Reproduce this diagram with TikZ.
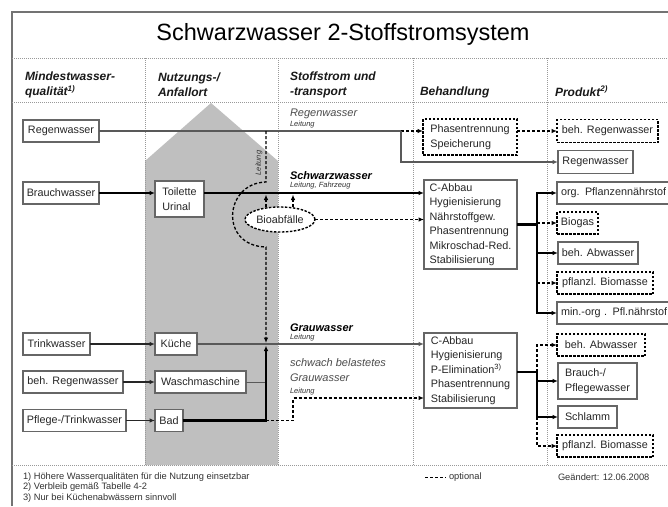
\documentclass[tikz,border=0pt]{standalone}
\usepackage{fontspec}
\setmainfont{Liberation Sans}
\usetikzlibrary{arrows.meta,shapes.geometric}
\begin{document}
\begin{tikzpicture}[x=1pt,y=-1pt,
  every node/.style={inner sep=0pt, outer sep=0pt},
  box/.style={draw=black!60, line width=1.2pt, fill=white, inner sep=2pt, text=black!85, font=\fontsize{10.8}{14.5}\selectfont, align=left},
  dbox/.style={box, draw=black, line width=1.4pt, dash pattern=on 2.5pt off 1.5pt},
  gl/.style={draw=black!65, line width=1.2pt},
  ml/.style={draw=black!85, line width=1.6pt},
  kl/.style={draw=black, line width=2.4pt},
  dl/.style={draw=black, line width=1.3pt, dash pattern=on 3pt off 2pt},
  arr/.style={-{Latex[length=5.5pt,width=4.5pt]}},
  colsep/.style={draw=black!40, line width=0.9pt, dash pattern=on 1pt off 1pt},
  hd/.style={font=\fontsize{12}{15}\selectfont\bfseries\itshape, align=left, anchor=west, text=black!90},
  lbl/.style={font=\fontsize{11}{15}\selectfont\itshape, anchor=west, text=black!70, align=left},
  blbl/.style={font=\fontsize{11}{15}\selectfont\bfseries\itshape, anchor=west},
  sml/.style={font=\fontsize{7.5}{9}\selectfont\itshape, anchor=west, text=black!80},
  ft/.style={font=\fontsize{9.3}{10}\selectfont, anchor=west, text=black!80},
]
\useasboundingbox (0,0) rectangle (668,506);
\clip (0,0) rectangle (668,506);
\fill[white] (0,0) rectangle (668,506);

% house
\fill[black!25] (145,161) -- (211,103) -- (278,161) -- (278,465) -- (145,465) -- cycle;

% frame and grid
\draw[draw=black!55, line width=1.2pt] (12,506) -- (12,12) -- (668,12);
\draw[colsep] (12,58) -- (668,58);
\draw[colsep] (12,102) -- (668,102);
\draw[colsep] (12,465) -- (668,465);
\foreach \x in {145,278,413,547} \draw[colsep] (\x,58) -- (\x,465);

% title and headers
\node[font=\fontsize{23.5}{28}\selectfont] (title) at (343,34) {Schwarzwasser 2-Stoffstromsystem};
\node[hd] (h1) at (25,85) {Mindestwasser-\\qualität\textsuperscript{1)}};
\node[hd] (h2) at (158,85) {Nutzungs-/\\Anfallort};
\node[hd] (h3) at (290,85) {Stoffstrom und\\-transport};
\node[hd] (h4) at (420,92) {Behandlung};
\node[hd] (h5) at (555,91) {Produkt\textsuperscript{2)}};

% left column
\node[box, minimum width=76pt, minimum height=22pt] (rwL) at (61,131) {Regenwasser};
\node[box, minimum width=76pt, minimum height=22pt] (bwL) at (61,193) {Brauchwasser};
\node[box, minimum width=67pt, minimum height=22pt] (twL) at (56.5,344) {Trinkwasser};
\node[box, minimum width=100pt, minimum height=22pt] (brL) at (73,382) {beh. Regenwasser};
\node[box, minimum width=103pt, minimum height=22pt] (ptL) at (74.5,420.5) {Pflege-/Trinkwasser};

% middle column
\node[box, minimum width=49pt, minimum height=36pt] (toil) at (179.5,199) {Toilette\\Urinal};
\node[box, minimum width=42pt, minimum height=22pt] (kue) at (176,344) {Küche};
\node[box, minimum width=91pt, minimum height=22pt] (wm) at (200.5,382) {Waschmaschine};
\node[box, minimum width=28pt, minimum height=22pt] (bad) at (169,420.5) {Bad};

% treatment
\node[dbox, minimum width=94pt, minimum height=36pt] (ps) at (470,137) {Phasentrennung\\Speicherung};
\node[box, minimum width=93pt, minimum height=89pt] (cab1) at (470.5,224.5) {C-Abbau\\Hygienisierung\\Nährstoffgew.\\Phasentrennung\\Mikroschad-Red.\\Stabilisierung};
\node[box, minimum width=93pt, minimum height=75pt] (cab2) at (470.5,370.5) {C-Abbau\\Hygienisierung\\P-Elimination\textsuperscript{3)}\\Phasentrennung\\Stabilisierung};

% products
\node[dbox, minimum width=101pt, minimum height=23pt] (bRw) at (607.5,131) {beh. Regenwasser};
\node[box, minimum width=75pt, minimum height=23pt] (rwP) at (595.5,162) {Regenwasser};
\node[box, anchor=west, minimum height=22pt, text width=125pt, inner xsep=4pt] (org) at (557,193) {org. Pflanzennährstof};
\node[dbox, minimum width=41pt, minimum height=22pt] (bgas) at (577.5,223) {Biogas};
\node[box, minimum width=80pt, minimum height=22pt] (bAw1) at (598,253) {beh. Abwasser};
\node[dbox, minimum width=96pt, minimum height=22pt] (pb1) at (605,283) {pflanzl. Biomasse};
\node[box, anchor=west, minimum height=22pt, text width=125pt, inner xsep=4pt] (mo) at (557,313) {min.-org . Pfl.nährstof};
\node[dbox, minimum width=88pt, minimum height=22pt] (bAw2) at (601,345) {beh. Abwasser};
\node[box, minimum width=79pt, minimum height=36pt] (bp) at (597.5,381) {Brauch-/\\Pflegewasser};
\node[box, minimum width=59pt, minimum height=22pt] (sch) at (587.5,417) {Schlamm};
\node[dbox, minimum width=96pt, minimum height=22pt] (pb2) at (605,446) {pflanzl. Biomasse};

% bioabfaelle
\node[dbox, ellipse, minimum width=70pt, minimum height=25pt, inner sep=0pt] (bio) at (280,219.5) {Bioabfälle};

% labels
\node[lbl] (lRw) at (290,114) {Regenwasser};
\node[sml] (lRwL) at (290,125) {Leitung};
\node[blbl] (lSw) at (290,176) {Schwarzwasser};
\node[sml] (lSwL) at (290,186) {Leitung, Fahrzeug};
\node[blbl] (lGw) at (290,328) {Grauwasser};
\node[sml] (lGwL) at (290,338) {Leitung};
\node[lbl, anchor=north west] (lsb) at (290,359) {schwach belastetes\\Grauwasser};
\node[sml] (lsbL) at (290,392) {Leitung};
\node[sml, rotate=90, anchor=center] (lvert) at (259,163) {Leitung};

% coordinates
\coordinate (rwJ) at (401,131);
\coordinate (lt1) at (266,131);
\coordinate (lt2) at (266,182);
\coordinate (lt3) at (266,247);
\coordinate (J) at (266,344);
\coordinate (gwd) at (293,398);
\coordinate (badJ) at (266,420.5);
\coordinate (busA) at (537,224.5);
\coordinate (busB) at (537,372);

% Regenwasser
\draw[gl] (rwL.east) -- (rwJ);
\draw[dl,arr] (rwJ) -- (ps.west |- rwJ);
\draw[gl,arr] (rwJ) |- (rwP.west);
\draw[dl,arr] (ps.east |- rwJ) -- (bRw.west);

% Schwarzwasser
\draw[kl,arr] (bwL.east) -- (toil.west |- bwL.east);
\draw[kl,arr] (toil.east |- bwL.east) -- (cab1.west |- bwL.east);
\draw[dl,arr] (bio.east) -- (cab1.west |- bio.east);
\draw[dl,arr,shorten >=1.5pt] (bio.north -| lt1) -- (lt1 |- bwL.east);
\draw[dl,arr,shorten >=1.5pt] (bio.north -| gwd) -- (gwd |- bwL.east);
\draw[dl,arr,shorten >=1pt] (lt1) -- (lt2) .. controls (224,183) and (219,246) .. (lt3) -- (J);

% Grauwasser
\draw[ml,arr] (twL.east) -- (kue.west);
\draw[gl,arr] (kue.east) -- (cab2.west |- kue.east);
\draw[ml,arr] (brL.east) -- (wm.west);
\draw[gl, line width=0.9pt] (wm.east) -- (wm.east -| J);
\draw[ml,arr] (ptL.east) -- (bad.west |- ptL.east);
\draw[kl,arr,shorten >=1.5pt] (bad.east) -| (J);
\draw[dl,arr] (badJ) -| (gwd) -- (cab2.west |- gwd);

% bus 1
\draw[kl] (cab1.east) -- (busA);
\draw[kl, line cap=rect] (busA |- org.west) -- (busA |- mo.west);
\draw[kl,arr] (busA |- org.west) -- (org.west);
\draw[dl,arr] (busA |- bgas.west) -- (bgas.west);
\draw[kl,arr] (busA |- bAw1.west) -- (bAw1.west);
\draw[dl,arr] (busA |- pb1.west) -- (pb1.west);
\draw[kl,arr] (busA |- mo.west) -- (mo.west);

% bus 2
\draw[kl] (cab2.east |- busB) -- (busB);
\draw[dl,arr] (busB) |- (bAw2.west);
\draw[kl, line cap=rect] (busB) -- (busB |- sch.west);
\draw[kl,arr] (busB |- bp.west) -- (bp.west);
\draw[kl,arr] (busB |- sch.west) -- (sch.west);
\draw[dl,arr] (busB |- sch.west) |- (pb2.west);

% footer
\node[ft] (f1) at (23,477) {1) Höhere Wasserqualitäten für die Nutzung einsetzbar};
\node[ft] (f2) at (23,487.5) {2) Verbleib gemäß Tabelle 4-2};
\node[ft] (f3) at (23,498) {3) Nur bei Küchenabwässern sinnvoll};
\node[ft] (opt) at (449,477) {optional};
\coordinate (lg) at (425,477);
\draw[draw=black, line width=0.8pt, dash pattern=on 2.5pt off 2.5pt, shorten >=3pt] (lg) -- (opt.west);
\node[ft] (chg) at (558,477) {Geändert: 12.06.2008};
\end{tikzpicture}
\end{document}
